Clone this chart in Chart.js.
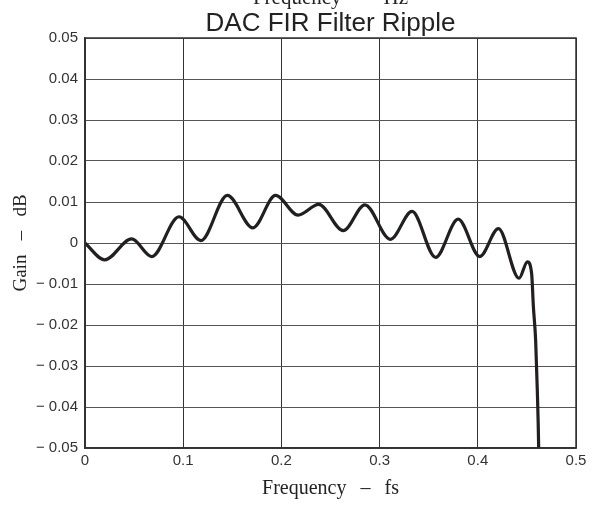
<!DOCTYPE html>
<html>
<head>
<meta charset="utf-8">
<script src="https://cdn.jsdelivr.net/npm/chart.js@4"></script>
<style>
  html, body { margin: 0; padding: 0; background: #fff; }
  #wrap { width: 598px; height: 505px; overflow: hidden; }
</style>
</head>
<body>
<div id="wrap"><canvas id="c" width="598" height="505"></canvas></div>
<script>
// frequency in fs, gain in dB (extrema + roll-off)
const freq = [0, 0.020, 0.0475, 0.068, 0.0957, 0.118, 0.145, 0.171, 0.194, 0.217, 0.238, 0.263,
  0.285, 0.311, 0.333, 0.357, 0.380, 0.402, 0.421, 0.442, 0.4505, 0.4548, 0.4566, 0.4589,
  0.4606, 0.462, 0.4625];
const gain = [0, -0.0041, 0.0010, -0.0033, 0.0064, 0.0006, 0.0116, 0.0037, 0.0116, 0.0068, 0.0094, 0.0030,
  0.0093, 0.0009, 0.0077, -0.0035, 0.0058, -0.0033, 0.0035, -0.0086, -0.0046, -0.0074, -0.0155, -0.0237,
  -0.0359, -0.0501, -0.0600];

const xTicks = [0, 0.1, 0.2, 0.3, 0.4, 0.5];
const yTicks = [-0.05, -0.04, -0.03, -0.02, -0.01, 0, 0.01, 0.02, 0.03, 0.04, 0.05];

const topTitle = "Frequency  \u2014  Hz";
const mainTitle = "DAC FIR Filter Ripple";

const sans = '"Liberation Sans", Arial, sans-serif';
const serif = '"Liberation Serif", "Times New Roman", serif';

function yLabel(v) {
  const r = Math.round(v * 100) / 100;
  if (r === 0) return "0";
  if (r < 0) return "\u2212 " + (-r).toFixed(2);
  return r.toFixed(2);
}

const titles = {
  id: "titles",
  afterDraw(chart) {
    const { ctx, chartArea } = chart;
    const cx = (chartArea.left + chartArea.right) / 2;
    ctx.save();
    ctx.fillStyle = "#222";
    ctx.textAlign = "center";
    ctx.textBaseline = "alphabetic";
    ctx.font = "21px " + serif;
    ctx.fillText(topTitle, cx, 4);
    ctx.font = "26px " + sans;
    ctx.fillText(mainTitle, cx, 31);
    // frame
    ctx.strokeStyle = "#333";
    ctx.lineWidth = 1.5;
    ctx.strokeRect(chartArea.left, chartArea.top, chartArea.right - chartArea.left, chartArea.bottom - chartArea.top);
    ctx.restore();
  }
};

new Chart(document.getElementById("c"), {
  type: "line",
  data: {
    datasets: [{
      data: freq.map((f, i) => ({ x: f, y: gain[i] })),
      borderColor: "#231f20",
      borderWidth: 3.2,
      pointRadius: 0,
      fill: false,
      cubicInterpolationMode: "monotone"
    }]
  },
  options: {
    responsive: false,
    animation: false,
    layout: { padding: { top: 38, right: 22, left: 0, bottom: 0 } },
    plugins: { legend: { display: false }, tooltip: { enabled: false } },
    scales: {
      x: {
        type: "linear",
        min: 0,
        max: 0.5,
        afterBuildTicks: (s) => { s.ticks = xTicks.map((v) => ({ value: v })); },
        afterFit: (s) => { s.height = 57; },
        grid: { color: "#333", lineWidth: 1, drawTicks: false },
        border: { color: "#333", width: 1.5 },
        ticks: {
          padding: 4,
          color: "#333",
          font: { family: sans, size: 15 },
          callback: (v) => String(Math.round(v * 10) / 10)
        },
        title: {
          display: true,
          text: "Frequency  \u2009\u2013\u2009  fs",
          color: "#222",
          font: { family: serif, size: 20 },
          padding: { top: 2, bottom: 4 }
        }
      },
      y: {
        min: -0.05,
        max: 0.05,
        afterBuildTicks: (s) => { s.ticks = yTicks.map((v) => ({ value: v })); },
        afterFit: (s) => { s.width = 85; },
        grid: { color: "#555", lineWidth: 1, drawTicks: false },
        border: { color: "#333", width: 1.5 },
        ticks: {
          padding: 7,
          color: "#333",
          font: { family: sans, size: 15 },
          callback: (v) => yLabel(v)
        },
        title: {
          display: true,
          text: "Gain   \u2013   dB",
          color: "#222",
          font: { family: serif, size: 19 },
          padding: { top: 10, bottom: 4 }
        }
      }
    }
  },
  plugins: [titles]
});
</script>
</body>
</html>
